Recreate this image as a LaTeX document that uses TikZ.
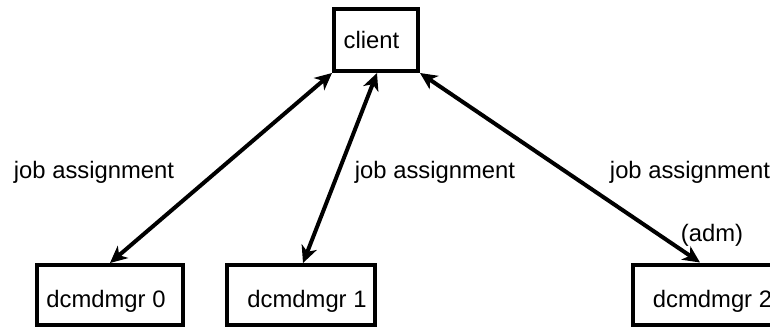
\documentclass[tikz,border=0pt]{standalone}
\usepackage{fontspec}
\setmainfont{Liberation Sans}
\usetikzlibrary{arrows.meta,calc}
\tikzset{
  box/.style={draw, line width=4pt, inner sep=0pt, minimum height=60pt},
  lbl/.style={font=\fontsize{23.8}{28}\selectfont, inner sep=0pt, anchor=base},
  link/.style={line width=4pt, {Stealth[length=17pt,width=16pt,inset=5pt]}-{Stealth[length=17pt,width=16pt,inset=5pt]}}
}
\begin{document}
\begin{tikzpicture}[x=1pt,y=-1pt]
\useasboundingbox (0,0) rectangle (770,330);
\clip (0,0) rectangle (770,330);
% boxes
\node[box, minimum width=84pt, minimum height=62pt] (client) at (376,40) {};
\node[box, minimum width=146pt] (b0) at (110,295) {};
\node[box, minimum width=148pt] (b1) at (301,295) {};
\node[box, minimum width=148pt] (b2) at (707,294.5) {};
% box texts
\node[lbl] (tc) at (371.5,48) {client};
\node[lbl] (t0) at (106,307) {dcmdmgr 0};
\node[lbl] (t1) at (307,307) {dcmdmgr 1};
\node[lbl] (t2) at (712.5,307) {dcmdmgr 2};
% connectors
\draw[link] (client.south west) -- (b0.north);
\draw[link] ([xshift=1pt]client.south) -- ([xshift=2pt]b1.north);
\draw[link] (client.south east) -- ([xshift=-7pt]b2.north);
% labels
\node[lbl] (l0) at (94,178) {job assignment};
\node[lbl] (l1) at (435,178) {job assignment};
\node[lbl] (l2) at (690,178) {job assignment};
\node[lbl] (l3) at (712,241) {(adm)};
\end{tikzpicture}
\end{document}
